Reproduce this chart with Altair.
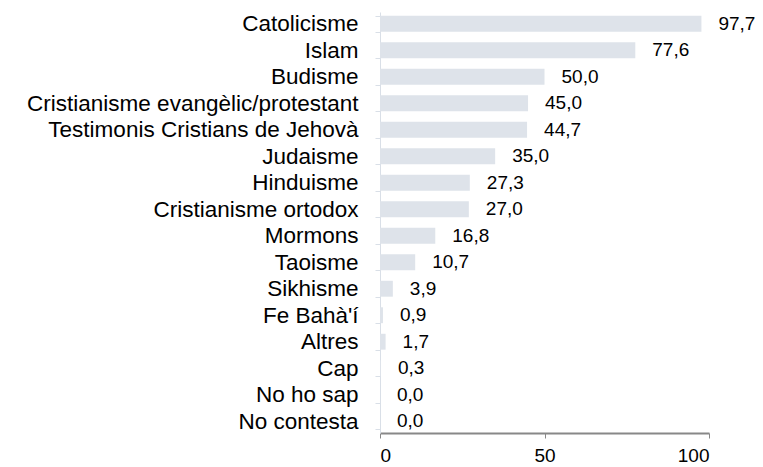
import altair as alt
import pandas as pd

categories = [
    "Catolicisme", "Islam", "Budisme", "Cristianisme evangèlic/protestant",
    "Testimonis Cristians de Jehovà", "Judaisme", "Hinduisme", "Cristianisme ortodox",
    "Mormons", "Taoisme", "Sikhisme", "Fe Bahà'í", "Altres", "Cap", "No ho sap", "No contesta",
]
values = [97.7, 77.6, 50.0, 45.0, 44.7, 35.0, 27.3, 27.0, 16.8, 10.7, 3.9, 0.9, 1.7, 0.3, 0.0, 0.0]
x_ticks = [0, 50, 100]

df = pd.DataFrame({"cat": categories, "val": values})
df["label"] = [f"{v:.1f}".replace(".", ",") for v in values]

FONT = "Liberation Sans"

y_enc = alt.Y(
    "cat:N", sort=None, title=None,
    scale=alt.Scale(paddingInner=0.4, paddingOuter=0.145),
    axis=alt.Axis(
        domainColor="#d9dfe7", tickColor="#d9dfe7", tickSize=5, tickBand="extent",
        labelFont=FONT, labelFontSize=22.5, labelColor="#000000", labelPadding=17,
        labelLimit=400,
    ),
)
x_enc = alt.X(
    "val:Q", title=None,
    scale=alt.Scale(domain=[0, 100], nice=False),
    axis=alt.Axis(
        values=x_ticks, grid=False, domainColor="#888888", domainWidth=2,
        tickColor="#888888", tickSize=5, labelFont=FONT, labelFontSize=19,
        labelColor="#000000", labelPadding=8,
    ),
)

bars = alt.Chart(df).mark_bar(color="#dee3ea").encode(x=x_enc, y=y_enc)
texts = alt.Chart(df).mark_text(
    align="left", baseline="middle", dx=17, font=FONT, fontSize=19, color="#000000"
).encode(x="val:Q", y=alt.Y("cat:N", sort=None), text="label:N")

chart = (bars + texts).properties(
    width=329, height=421,
    autosize=alt.AutoSizeParams(type="none"),
    padding={"left": 372, "top": 4, "right": 46, "bottom": 32},
).configure_view(stroke=None)

chart.save("out.html", embed_options={"renderer": "svg", "actions": False})
